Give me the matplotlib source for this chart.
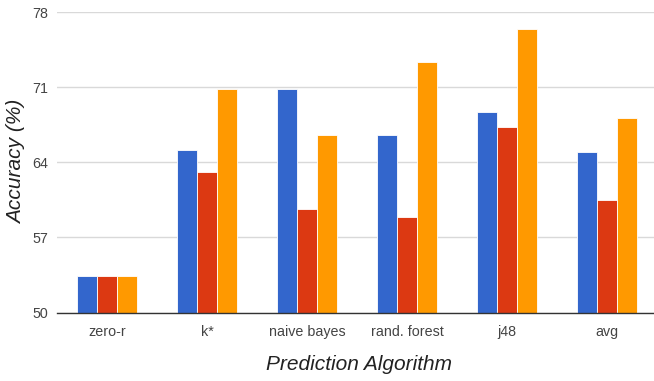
import matplotlib.pyplot as plt
import numpy as np

plt.rcParams['font.family'] = ['Liberation Sans', 'DejaVu Sans']

algos = ['zero-r', 'k*', 'naive bayes', 'rand. forest', 'j48', 'avg']
serie_a = [53.4, 65.2, 70.8, 66.6, 68.7, 65.0]   # bleu
serie_b = [53.4, 63.1, 59.7, 58.9, 67.3, 60.5]   # rouge
serie_c = [53.4, 70.8, 66.6, 73.4, 76.4, 68.1]   # orange
couleurs = ['#3366cc', '#dc3912', '#ff9900']
yticks = [50, 57, 64, 71, 78]

fig = plt.figure(figsize=(6.54, 3.81), dpi=100)
ax = fig.add_axes([57/654, 68.5/381, 600/654, 300.2/381])

x = np.arange(len(algos))
w = 0.202
for k, (s, c) in enumerate(zip([serie_a, serie_b, serie_c], couleurs)):
    ax.bar(x + (k - 1)*w, np.array(s) - 50, bottom=50, width=w, color=c,
           edgecolor='white', linewidth=0.6, zorder=3)

ax.set_xlim(-0.5, 5.5)
ax.set_ylim(50, 78)
ax.set_yticks(yticks)
ax.set_xticks(x)
ax.set_xticklabels(algos)
ax.tick_params(length=0, labelsize=10.3, colors='#444444', pad=9)
ax.tick_params(axis='y', pad=6.5)
ax.grid(axis='y', color='#d9d9d9', linewidth=1, zorder=0)
for sp in ['top', 'right', 'left']:
    ax.spines[sp].set_visible(False)
ax.spines['bottom'].set_color('#333333')
ax.spines['bottom'].set_linewidth(1)
ax.spines['bottom'].set_zorder(4)

fig.text(17/654, 1 - 162/381, 'Accuracy (%)', rotation=90, style='italic',
         fontsize=15, color='#222222', ha='center', va='center')
fig.text(359/654, 1 - 365/381, 'Prediction Algorithm', style='italic',
         fontsize=15, color='#222222', ha='center', va='center')

plt.savefig('out.png', dpi=100)
